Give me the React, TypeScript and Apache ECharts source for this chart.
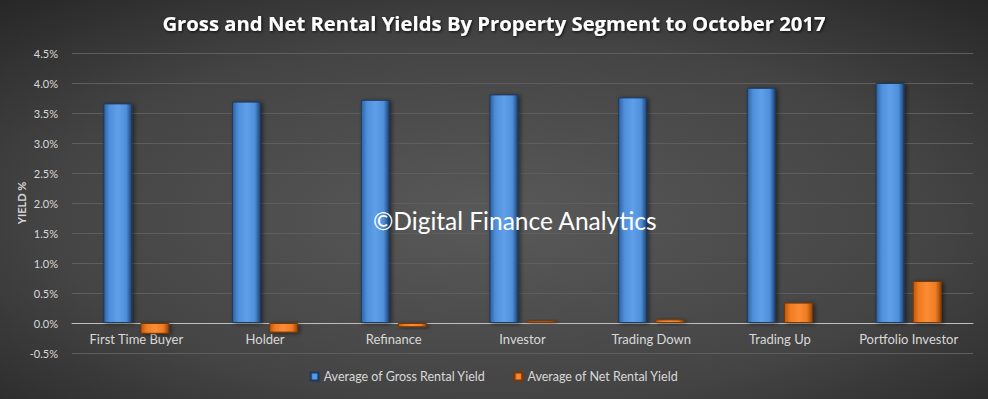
import React, { useEffect, useRef } from "react";
import * as echarts from "echarts";

const categories = ["First Time Buyer", "Holder", "Refinance", "Investor", "Trading Down", "Trading Up", "Portfolio Investor"];
const grossYield = [3.66, 3.69, 3.72, 3.81, 3.76, 3.92, 4.0];
const netYield = [-0.18, -0.16, -0.07, 0.04, 0.06, 0.34, 0.7];
const seriesNames = ["Average of Gross Rental Yield", "Average of Net Rental Yield"];

const FONT = "Lato";

const blueGrad = new echarts.graphic.LinearGradient(0, 0, 1, 0, [
  { offset: 0, color: "#2f5f9c" },
  { offset: 0.2, color: "#4e8fdb" },
  { offset: 0.5, color: "#609fe8" },
  { offset: 0.8, color: "#4e8fdb" },
  { offset: 1, color: "#1f416d" },
]);
const orangeGrad = new echarts.graphic.LinearGradient(0, 0, 1, 0, [
  { offset: 0, color: "#b9570c" },
  { offset: 0.2, color: "#f07c22" },
  { offset: 0.5, color: "#fb8c34" },
  { offset: 0.8, color: "#f07c22" },
  { offset: 1, color: "#8e4208" },
]);

export default function App() {
  const ref = useRef<HTMLDivElement>(null);
  useEffect(() => {
    if (!ref.current) return;
    const chart = echarts.init(ref.current, undefined, { renderer: "svg" });
    chart.setOption({
      animation: false,
      backgroundColor: new echarts.graphic.RadialGradient(0.5, 0.55, 0.75, [
        { offset: 0, color: "#595959" },
        { offset: 0.6, color: "#444444" },
        { offset: 1, color: "#262626" },
      ]),
      title: {
        text: "Gross and Net Rental Yields By Property Segment to October 2017",
        left: "center",
        top: 8,
        textStyle: {
          color: "#ffffff",
          fontFamily: "Open Sans",
          fontWeight: "bold",
          fontSize: 20.3,
          textShadowColor: "rgba(0,0,0,0.8)",
          textShadowBlur: 3,
          textShadowOffsetX: 1,
          textShadowOffsetY: 1,
        },
      },
      legend: {
        bottom: 11,
        left: "center",
        itemWidth: 8,
        itemHeight: 8,
        itemGap: 28,
        icon: "rect",
        textStyle: { color: "#d9d9d9", fontFamily: FONT, fontSize: 12.5 },
        data: seriesNames,
      },
      grid: { left: 72, right: 15, top: 53, bottom: 46 },
      xAxis: {
        type: "category",
        data: categories,
        axisLine: { show: true, onZero: true, lineStyle: { color: "#bfbfbf", width: 1 } },
        axisTick: { show: false },
        axisLabel: { color: "#d9d9d9", fontFamily: FONT, fontSize: 13, margin: -21 },
      },
      yAxis: {
        type: "value",
        min: -0.5,
        max: 4.5,
        interval: 0.5,
        name: "YIELD %",
        nameLocation: "middle",
        nameGap: 45,
        nameMoveOverlap: false,
        nameTextStyle: { color: "#d9d9d9", fontFamily: FONT, fontSize: 11, fontWeight: "bold" },
        axisLine: { show: false },
        axisTick: { show: false },
        axisLabel: {
          color: "#d9d9d9",
          fontFamily: FONT,
          fontSize: 11,
          margin: 14,
          formatter: (v: number) => v.toFixed(1) + "%",
        },
        splitLine: { lineStyle: { color: "#5e5e5e", width: 1 } },
      },
      graphic: [
        {
          type: "text",
          left: 373,
          top: 208,
          style: { text: "©Digital Finance Analytics", fill: "#ffffff", font: `24.5px ${FONT}` },
          z: 100,
        },
      ],
      series: [
        {
          name: seriesNames[0],
          type: "bar",
          data: grossYield,
          barWidth: 29,
          barGap: "28%",
          itemStyle: { color: blueGrad, borderColor: "#1c3a60", borderWidth: 1, shadowColor: "rgba(0,0,0,0.5)", shadowBlur: 4, shadowOffsetX: 2, shadowOffsetY: 1 },
        },
        {
          name: seriesNames[1],
          type: "bar",
          data: netYield,
          barWidth: 29,
          itemStyle: { color: orangeGrad, borderColor: "#7a3806", borderWidth: 1, shadowColor: "rgba(0,0,0,0.5)", shadowBlur: 4, shadowOffsetX: 2, shadowOffsetY: 1 },
        },
      ],
    });
    return () => chart.dispose();
  }, []);
  return <div ref={ref} style={{ width: 988, height: 399, position: "absolute", left: 0, top: 0 }} />;
}
